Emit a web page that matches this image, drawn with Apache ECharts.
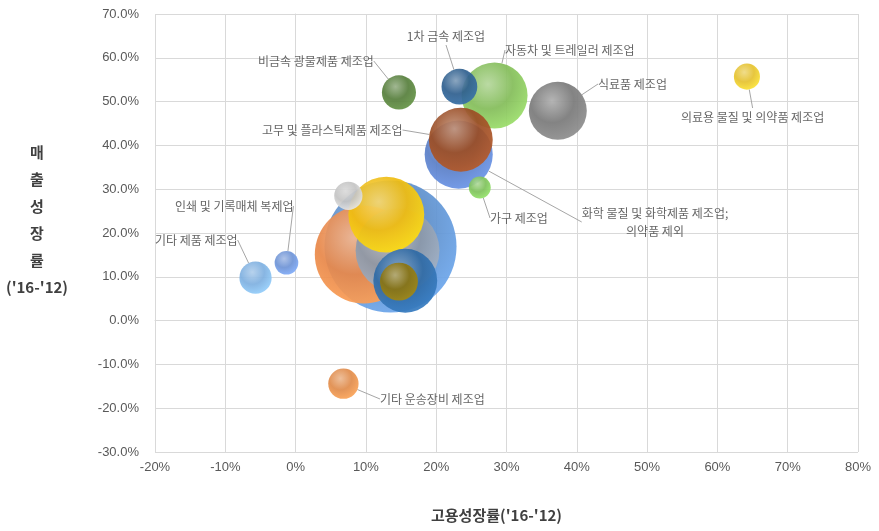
<!DOCTYPE html>
<html>
<head>
<meta charset="utf-8">
<script src="https://cdn.jsdelivr.net/npm/echarts@6/dist/echarts.min.js"></script>
<style>
html,body{margin:0;padding:0;background:#fff;}
#chart{width:879px;height:531px;}
</style>
</head>
<body>
<div id="chart"></div>
<script>
// ---- data ----
const industries = [
  '비금속 광물제품 제조업',
  '1차 금속 제조업',
  '자동차 및 트레일러 제조업',
  '식료품 제조업',
  '의료용 물질 및 의약품 제조업',
  '고무 및 플라스틱제품 제조업',
  '화학 물질 및 화학제품 제조업;\n의약품 제외',
  '가구 제조업',
  '',
  '',
  '',
  '',
  '',
  '',
  '',
  '기타 제품 제조업',
  '인쇄 및 기록매체 복제업',
  '기타 운송장비 제조업'
];
// employment growth ('16-'12), %
const empGrowth = [14.7, 23.3, 28.3, 37.3, 64.2, 23.5, 23.2, 26.2, 7.5, 12.9, 9.7, 13.5, 14.5, 15.6, 14.7, -5.7, -1.3, 6.8];
// sales growth ('16-'12), %
const salesGrowth = [52.1, 53.4, 51.4, 47.9, 55.7, 41.3, 37.9, 30.4, 28.5, 24.2, 15.1, 16.9, 16.0, 9.1, 8.9, 9.8, 13.2, -14.4];
// bubble size
const bubbleSize = [29, 32, 109, 84, 17, 102, 116, 12, 20, 144, 240, 436, 176, 102, 36, 26, 14, 23];
const xTicks = [-20, -10, 0, 10, 20, 30, 40, 50, 60, 70, 80];
const yTicks = [-30, -20, -10, 0, 10, 20, 30, 40, 50, 60, 70];

// ---- styles (not data) ----
const palette = ['#577f3d', '#30608f', '#84bd5a', '#7a7a7a', '#e5c230', '#9a4d25', '#5b7fc6', '#7fc25c',
  '#c4c4c4', '#efbc10', '#e8884a', '#5e8fca', '#8c98a8', '#2f6aa5', '#8a7412', '#7fb0e0', '#6f94d6', '#e08c4c'];
// label anchor [x px, y px, align]
const labelPos = [
  [258, 61, 'left'], [446, 36, 'center'], [505, 50, 'left'], [598, 84, 'left'], [681, 117, 'left'],
  [262, 130, 'left'], [655, 222, 'center'], [490, 218, 'left'], null, null, null, null, null, null, null,
  [155, 240, 'left'], [175, 206, 'left'], [380, 399, 'left']
];

const order = bubbleSize.map((s, i) => i).sort((a, b) => bubbleSize[b] - bubbleSize[a]);
const sizeOf = v => 2 * Math.sqrt(v * 10);

const data = order.map(i => {
  const base = palette[i];
  return {
    name: industries[i],
    value: [empGrowth[i], salesGrowth[i], bubbleSize[i], i],
    itemStyle: {
      color: {
        type: 'radial', x: 0.4, y: 0.33, r: 0.75,
        colorStops: [
          {offset: 0, color: echarts.color.lift(base, 0.4)},
          {offset: 0.5, color: base},
          {offset: 1, color: echarts.color.lift(base, -0.2)}
        ]
      },
      opacity: 0.93
    },
    label: {show: industries[i] !== ''},
    labelLine: {show: industries[i] !== ''}
  };
});

const chart = echarts.init(document.getElementById('chart'), null, {renderer: 'canvas'});
const fontCJK = '"Noto Sans CJK KR", "Noto Sans", sans-serif';
chart.setOption({
  animation: false,
  backgroundColor: '#ffffff',
  grid: {left: 155, right: 21, top: 14, bottom: 79},
  xAxis: {
    type: 'value', min: xTicks[0], max: xTicks[xTicks.length - 1], interval: 10,
    name: "고용성장률('16-'12)", nameLocation: 'middle', nameGap: 56,
    nameTextStyle: {fontFamily: fontCJK, fontSize: 15, fontWeight: 'bold', color: '#404040', padding: [0, 20, 0, 0]},
    axisLine: {show: true, lineStyle: {color: '#d9d9d9'}},
    axisTick: {show: false},
    splitLine: {show: true, lineStyle: {color: '#d9d9d9', width: 1}},
    axisLabel: {formatter: '{value}%', color: '#595959', fontSize: 13, fontFamily: 'Liberation Sans', margin: 9}
  },
  yAxis: {
    type: 'value', min: yTicks[0], max: yTicks[yTicks.length - 1], interval: 10,
    name: "매\n출\n성\n장\n률\n('16-'12)\n ", nameLocation: 'middle', nameRotate: 0, nameGap: 118,
    nameTextStyle: {fontFamily: fontCJK, fontSize: 15, fontWeight: 'bold', color: '#404040', align: 'center', lineHeight: 27},
    axisLine: {show: true, lineStyle: {color: '#d9d9d9'}},
    axisTick: {show: false},
    splitLine: {show: true, lineStyle: {color: '#d9d9d9', width: 1}},
    axisLabel: {formatter: v => v.toFixed(1) + '%', color: '#595959', fontSize: 13, fontFamily: 'Liberation Sans', margin: 16}
  },
  series: [{
    type: 'scatter',
    data: data,
    symbolSize: v => sizeOf(v[2]),
    label: {
      show: true, formatter: p => p.name, color: '#595959', fontSize: 12, fontFamily: fontCJK,
      lineHeight: 18, position: 'inside'
    },
    labelLine: {show: true, lineStyle: {color: '#a6a6a6', width: 1}},
    labelLayout: function (params) {
      const idx = order[params.dataIndex];
      const p = labelPos[idx];
      if (!p) return {};
      return {x: p[0], y: p[1], align: p[2], verticalAlign: 'middle'};
    },
    emphasis: {disabled: true}
  }]
});
</script>
</body>
</html>
